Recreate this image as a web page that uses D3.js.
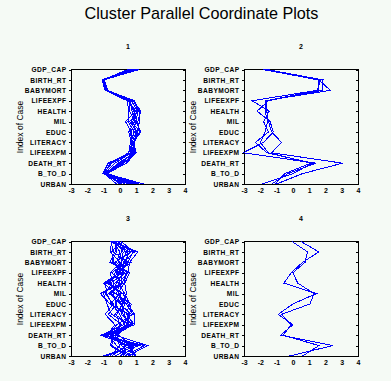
<!DOCTYPE html>
<html><head><meta charset="utf-8">
<script src="https://cdn.jsdelivr.net/npm/d3@7"></script>
<style>
html,body{margin:0;padding:0;background:#f5faf5;}
svg{display:block;}
</style></head>
<body>
<svg id="chart" width="391" height="381"></svg>
<script>
const variables = ["GDP_CAP","BIRTH_RT","BABYMORT","LIFEEXPF","HEALTH","MIL","EDUC","LITERACY","LIFEEXPM","DEATH_RT","B_TO_D","URBAN"];
const xTicks = [-3,-2,-1,0,1,2,3,4];
const panelTitles = ["1","2","3","4"];

// each row: one case, values in the order of `variables`
const cluster1 = [
  [0.8,-1.05,-0.85,0.55,0.9,0.8,1.0,0.75,0.9,-0.1,-0.9,0.6],
  [1.2,-1.0,-0.8,0.7,1.1,1.0,1.3,0.8,0.95,0.2,-0.85,1.45],
  [0.6,-1.1,-0.9,0.5,1.0,0.35,0.7,0.7,0.8,-0.7,-1.05,0.3],
  [0.9,-0.95,-0.75,0.8,1.3,1.1,1.2,0.85,1.0,0.4,-0.8,0.9],
  [0.5,-1.05,-0.85,0.6,0.6,0.9,0.55,0.7,0.65,-0.5,-1.0,0.1],
  [1.0,-0.98,-0.82,0.9,1.2,1.2,1.1,0.9,0.9,0.0,-0.9,1.2],
  [0.7,-1.08,-0.88,0.45,0.55,0.5,0.9,0.65,0.55,-0.6,-0.95,-0.2],
  [1.1,-1.02,-0.78,0.75,1.05,0.7,1.25,0.8,1.0,0.25,-0.75,1.1],
  [0.65,-1.1,-0.9,0.55,0.85,1.05,0.65,0.75,0.7,-0.3,-0.95,0.5],
  [0.95,-1.0,-0.8,0.85,1.15,0.6,1.05,0.85,0.85,-0.75,-1.0,0.8],
  [0.55,-1.06,-0.86,0.65,0.75,0.95,0.85,0.7,0.75,0.1,-0.88,0.0]
];
const cluster2 = [
  [-1.85,1.6,2.3,-1.7,-1.6,-1.5,-1.3,-0.7,-1.3,3.05,0.6,-1.0],
  [-1.7,1.7,1.5,-2.5,-1.45,-1.8,-1.5,-2.3,-1.6,1.2,0.0,-1.9],
  [-1.6,1.85,1.8,-1.5,-2.2,-1.4,-1.2,-1.8,-3.05,1.4,-0.3,-1.3],
  [-1.75,1.55,1.6,-1.6,-1.7,-1.55,-1.7,-2.0,-1.5,1.1,-0.5,-1.1]
];
const cluster3 = [
  [-0.3,0.2,0.1,0.2,-0.2,-0.5,0.1,0.3,0.4,-0.6,0.3,0.2],
  [-0.5,1.1,0.6,0.5,0.1,-1.2,-0.6,0.5,0.8,-0.3,1.7,0.5],
  [0.0,-0.5,-0.4,0.1,-0.8,0.2,0.5,0.9,0.9,-1.2,0.6,1.0],
  [-0.6,0.6,0.3,-0.3,-0.5,-0.9,-0.4,-0.9,-0.3,-0.8,1.2,-0.9],
  [-0.2,-0.3,-0.6,0.6,0.3,0.4,0.2,-0.2,0.0,-0.4,-0.5,0.6],
  [0.1,0.8,0.5,0.0,-1.0,-0.3,0.7,0.6,0.5,-0.9,0.9,-0.3],
  [-0.4,0.0,-0.2,0.3,-0.3,-1.0,-0.8,-0.5,0.6,-0.2,0.1,1.0],
  [-0.1,0.5,0.4,-0.5,0.2,-0.6,0.0,0.7,0.2,-1.1,1.5,0.3],
  [-0.5,-0.6,0.0,0.4,-0.6,0.1,-0.3,0.2,0.7,-0.5,0.4,-0.5],
  [0.05,0.3,0.7,-0.2,0.0,-0.2,0.4,0.8,-0.2,-0.7,-0.2,0.7],
  [-0.35,0.9,0.2,0.2,-0.9,-0.8,-0.5,0.0,0.3,-0.1,0.8,-1.0],
  [-0.25,-0.2,-0.5,0.5,-0.1,0.3,0.6,0.4,0.9,-1.0,1.1,0.0],
  [-0.45,0.4,0.1,-0.6,-0.4,-0.4,-0.2,-0.7,0.1,-0.4,-0.6,0.4],
  [-0.15,0.7,-0.3,0.1,0.1,-0.7,0.3,0.1,0.8,-0.6,0.7,0.8],
  [-0.55,-0.4,0.5,-0.1,-0.7,0.0,-0.6,0.6,0.4,-0.3,0.0,-0.6],
  [0.0,0.1,-0.1,0.4,0.25,-0.1,0.2,-0.3,0.6,-0.8,0.5,0.9]
];
const cluster4 = [
  [0.5,1.6,0.6,-0.1,-0.55,1.45,0.0,-0.9,0.0,-0.75,2.45,-0.2],
  [-0.05,0.9,0.75,0.0,0.3,1.3,1.05,-0.7,-0.1,-0.6,1.6,0.6]
];
const clusters = [cluster1, cluster2, cluster3, cluster4];

const svg = d3.select("#chart");
const FONT = "'Liberation Sans', Arial, sans-serif";

svg.append("text")
  .attr("x", 201.5).attr("y", 19)
  .attr("text-anchor", "middle")
  .attr("font-family", FONT)
  .attr("font-size", 16.2)
  .attr("fill", "#000")
  .text("Cluster Parallel Coordinate Plots");

const origins = [[71,69],[244,69],[71,241],[244,241]];
const W = 114, H = 116;

clusters.forEach((data, i) => {
  const [x0, y0] = origins[i];
  const x = d3.scaleLinear().domain([-3,4]).range([x0, x0 + W]);
  const y = d3.scalePoint().domain(variables).range([y0 + 0.5, y0 + H - 1]);
  const g = svg.append("g");

  // y axis (left, outward ticks)
  const yAxis = d3.axisLeft(y).tickSize(3).tickPadding(2);
  const ga = g.append("g").attr("transform", `translate(${x0 + 0.5},0)`).call(yAxis);
  ga.select(".domain").remove();
  ga.selectAll("line").attr("stroke", "#000").attr("shape-rendering", "crispEdges");
  ga.selectAll("text").attr("font-family", FONT).attr("font-size", 6.6)
    .attr("font-weight", "bold").attr("fill", "#000").attr("letter-spacing", 0.45);

  // right axis (inward ticks)
  const gr = g.append("g").attr("transform", `translate(${x0 + W + 0.5},0)`)
    .call(d3.axisLeft(y).tickSize(3).tickFormat(""));
  gr.select(".domain").remove();
  gr.selectAll("line").attr("stroke", "#000").attr("shape-rendering", "crispEdges");

  // x axis labels (no ticks)
  const gx = g.append("g").attr("transform", `translate(0,${y0 + H})`)
    .call(d3.axisBottom(x).tickValues(xTicks).tickSize(0).tickPadding(3).tickFormat(d3.format("d")));
  gx.select(".domain").remove();
  gx.selectAll("text").attr("font-family", FONT).attr("font-size", 7)
    .attr("font-weight", "bold").attr("fill", "#000")
    .text(d => d < 0 ? "-" + Math.abs(d) : String(d));

  // frame
  g.append("rect")
    .attr("x", x0 + 0.5).attr("y", y0 + 0.5)
    .attr("width", W).attr("height", H - 1)
    .attr("fill", "none").attr("stroke", "#000")
    .attr("shape-rendering", "crispEdges");

  // lines
  const line = d3.line()
    .x(d => x(d[0]))
    .y(d => y(d[1]));
  g.selectAll("path.case").data(data).enter().append("path")
    .attr("class", "case")
    .attr("d", row => line(row.map((v, k) => [v, variables[k]])))
    .attr("fill", "none").attr("stroke", "#0000ff").attr("stroke-width", 1)
    .attr("shape-rendering", "crispEdges");

  // panel title
  g.append("text")
    .attr("x", x0 + W / 2).attr("y", y0 - 20.5)
    .attr("text-anchor", "middle")
    .attr("font-family", FONT).attr("font-size", 7).attr("font-weight", "bold")
    .text(panelTitles[i]);

  // y title
  g.append("text")
    .attr("transform", `translate(${x0 - 48},${y0 + H / 2}) rotate(-90)`)
    .attr("text-anchor", "middle")
    .attr("font-family", FONT).attr("font-size", 8.5)
    .text("Index of Case");
});
</script>
</body></html>
